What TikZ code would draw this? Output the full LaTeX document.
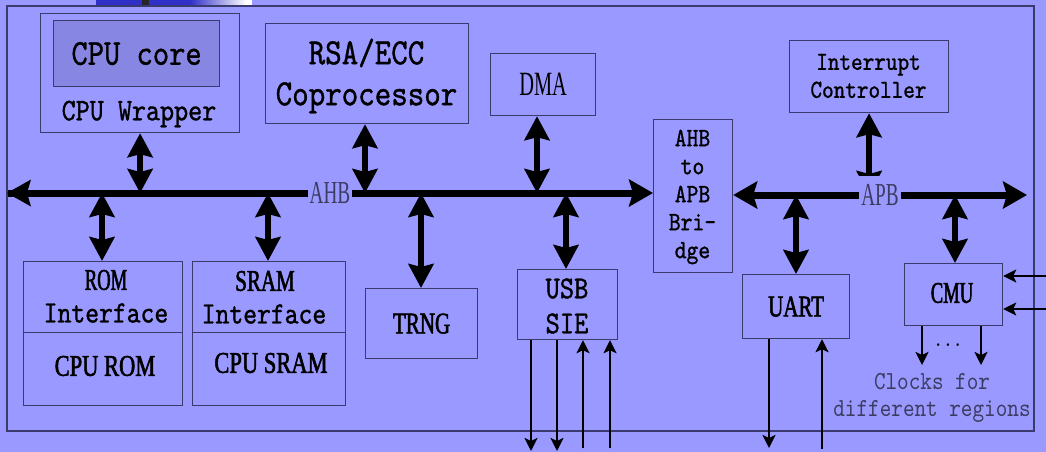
\documentclass[tikz,border=0pt]{standalone}
\usepackage{fontspec}
\setmainfont{Liberation Serif}
\newfontfamily\monof[Extension=.otf,FakeStretch=0.85,FakeBold=1.0]{lmmono10-regular}
\newfontfamily\monolight[Extension=.otf,FakeStretch=0.85]{lmmono10-regular}
\newfontfamily\condA[FakeStretch=0.62,FakeBold=1.8]{Liberation Serif}
\newfontfamily\condB[FakeStretch=0.70,FakeBold=1.8]{Liberation Serif}
\newfontfamily\condC[FakeStretch=0.75,FakeBold=1.8]{Liberation Serif}
\newfontfamily\condlight[FakeStretch=0.6]{Liberation Serif}
\usetikzlibrary{arrows.meta}
\definecolor{bg}{HTML}{9999FF}
\definecolor{corefill}{HTML}{8787E3}
\definecolor{edge}{HTML}{3A3A6E}
\definecolor{strip}{HTML}{3030C8}
\definecolor{labgrey}{HTML}{3C3C62}
\newcommand{\fs}[2]{\fontsize{#1pt}{#2pt}\selectfont}
\tikzset{
  blk/.style={draw=edge,line width=1.2pt,inner sep=0pt,anchor=north west},
  txt/.style={inner sep=0pt,align=center,text=black},
  dblar/.style={line width=6pt,{Stealth[length=24pt,width=25pt,inset=3pt]}-{Stealth[length=24pt,width=25pt,inset=3pt]}},
  busar/.style={line width=7pt,{Stealth[length=24pt,width=27pt,inset=4pt]}-{Stealth[length=24pt,width=27pt,inset=4pt]}},
  busr/.style={line width=7pt,-{Stealth[length=24pt,width=27pt,inset=4pt]}},
  thinar/.style={line width=2.5pt,-{Stealth[length=13pt,width=13pt,inset=3pt]}},
  buslab/.style={fill=bg,inner xsep=2pt,inner ysep=8pt,text=labgrey,font=\condlight\fs{32}{32}}
}
\begin{document}
\begin{tikzpicture}[x=1pt,y=-1pt]
\useasboundingbox (0,0) rectangle (1046,452);
\fill[bg] (0,0) rectangle (1046,452);
% top strip fragment
\fill[strip] (96,0) rectangle (190,5);
\shade[left color=strip,right color=white] (190,0) rectangle (246,5);
\fill[white] (246,0) rectangle (252,5);
\fill[black!85] (142,0) rectangle (149,6);
% outer frame
\draw[edge,line width=1.2pt] (7,6) rectangle (1034,431);

% boxes
\node[blk,minimum width=199pt,minimum height=119pt] (cpuw) at (40,13) {};
\node[blk,fill=corefill,minimum width=166pt,minimum height=66pt] (core) at (53,20) {};
\node[txt,font=\monof\fs{36.5}{36}] (coret) at (core.center) {CPU core};
\node[txt,font=\monof\fs{31.5}{31}] (cpuwt) at (139,114) {CPU Wrapper};

\node[blk,minimum width=203pt,minimum height=100pt] (rsa) at (265,23) {};
\node[txt,font=\monof\fs{37}{41}] (rsat) at (366.5,76) {RSA/ECC\\Coprocessor};

\node[blk,minimum width=105pt,minimum height=62pt] (dma) at (490,53) {};
\node[txt,font=\condlight\fs{34}{34}] (dmat) at (dma.center) {DMA};

\node[blk,minimum width=79pt,minimum height=153pt] (bridge) at (653,119) {};
\node[txt,font=\monof\fs{26.5}{28}] (bridget) at (692.5,197) {AHB\\to\\APB\\Bri-\\dge};

\node[blk,minimum width=159pt,minimum height=72pt] (intc) at (789,40) {};
\node[txt,font=\monof\fs{26}{28}] (intct) at (868.5,76) {Interrupt\\Controller};

\node[blk,minimum width=159pt,minimum height=71pt] (romif) at (23,261) {};
\node[blk,minimum width=159pt,minimum height=73pt] (rom) at (23,332) {};
\node[txt,font=\condA\fs{30}{30}] (romt1) at (106,280) {ROM};
\node[txt,font=\monof\fs{31}{31}] (romt2) at (106,313) {Interface};
\node[txt,font=\condC\fs{30}{30}] (romt3) at (105,366) {CPU ROM};

\node[blk,minimum width=153pt,minimum height=71pt] (sramif) at (192,261) {};
\node[blk,minimum width=153pt,minimum height=73pt] (sram) at (192,332) {};
\node[txt,font=\condB\fs{30}{30}] (sramt1) at (265,281) {SRAM};
\node[txt,font=\monof\fs{31}{31}] (sramt2) at (264,314) {Interface};
\node[txt,font=\condC\fs{30}{30}] (sramt3) at (271,363) {CPU SRAM};

\node[blk,minimum width=112pt,minimum height=70pt] (trng) at (365,288) {};
\node[txt,font=\condB\fs{30}{30}] (trngt) at (trng.center) {TRNG};

\node[blk,minimum width=100pt,minimum height=70pt] (usb) at (517,269) {};
\node[txt,font=\monof\fs{32}{35}] (usbt) at (567,306) {USB\\SIE};

\node[blk,minimum width=107pt,minimum height=64pt] (uart) at (742,274) {};
\node[txt,font=\condB\fs{30}{30}] (uartt) at (uart.center) {UART};

\node[blk,minimum width=98pt,minimum height=62pt] (cmu) at (904,263) {};
\node[txt,font=\condA\fs{30}{30}] (cmut) at (952,293) {CMU};

\node[txt,font=\monolight\fs{22}{22}] (dots) at (948,345) {...};
\node[txt,text=labgrey,font=\monolight\fs{26}{27}] (clk) at (932,398) {Clocks for\\different regions};

% buses
\coordinate (ahbL) at (8,193);
\coordinate (apbR) at (1027,195);
\draw[busr] (ahbL) -- (ahbL -| bridge.west);
\draw[busar] (bridge.east |- apbR) -- (apbR);

% vertical bus connections
\draw[dblar] (cpuw.south) -- (cpuw.south |- ahbL);
\draw[dblar] (rsa.south -| 365,0) -- (365,193);
\draw[dblar] (dma.south -| 537,0) -- (537,193);
\draw[dblar] (102,193) -- (romif.north -| 102,0);
\draw[dblar] (268,193) -- (sramif.north -| 268,0);
\draw[dblar] (421,193) -- (trng.north -| 421,0);
\draw[dblar] (566,193) -- (usb.north -| 566,0);
\draw[dblar] (intc.south) -- (intc.south |- apbR);
\draw[dblar] (796,195) -- (uart.north -| 796,0);
\draw[dblar] (955,195) -- (cmu.north -| 955,0);

% left arrowhead of AHB
\fill[black] (7,193) -- (31,179.5) -- (27,193) -- (31,206.5) -- cycle;

% bus labels
\node[buslab] (ahb) at (330,193) {AHB};
\node[buslab] (apb) at (880,195) {APB};

% USB signals
\coordinate (u1) at (531,451);
\coordinate (u2) at (557,451);
\coordinate (u3) at (583,448);
\coordinate (u4) at (610,448);
\draw[thinar] (u1 |- usb.south) -- (u1);
\draw[thinar] (u2 |- usb.south) -- (u2);
\draw[thinar] (u3) -- (u3 |- usb.south);
\draw[thinar] (u4) -- (u4 |- usb.south);

% UART signals
\coordinate (t1) at (769,448);
\coordinate (t2) at (822,449);
\draw[thinar] (t1 |- uart.south) -- (t1);
\draw[thinar] (t2) -- (t2 |- uart.south);

% CMU
\coordinate (c1) at (1046,276);
\coordinate (c2) at (1046,309);
\coordinate (o1) at (922,365);
\coordinate (o2) at (981,365);
\draw[thinar] (c1) -- (c1 -| cmu.east);
\draw[thinar] (c2) -- (c2 -| cmu.east);
\draw[thinar] (o1 |- cmu.south) -- (o1);
\draw[thinar] (o2 |- cmu.south) -- (o2);
\end{tikzpicture}
\end{document}
